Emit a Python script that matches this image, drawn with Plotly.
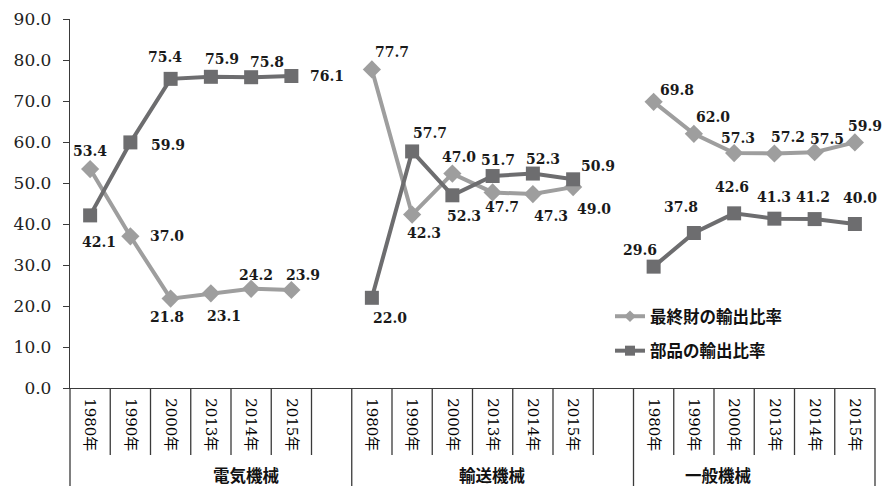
import plotly.graph_objects as go

# ---- data -------------------------------------------------------------
groups = ["電気機械", "輸送機械", "一般機械"]
years = ["1980年", "1990年", "2000年", "2013年", "2014年", "2015年"]

final_ratio = [
    [53.4, 37.0, 21.8, 23.1, 24.2, 23.9],   # 電気機械
    [77.7, 42.3, 52.3, 47.7, 47.3, 49.0],   # 輸送機械
    [69.8, 62.0, 57.3, 57.2, 57.5, 59.9],   # 一般機械
]
parts_ratio = [
    [42.1, 59.9, 75.4, 75.9, 75.8, 76.1],
    [22.0, 57.7, 47.0, 51.7, 52.3, 50.9],
    [29.6, 37.8, 42.6, 41.3, 41.2, 40.0],
]
series_names = ["最終財の輸出比率", "部品の輸出比率"]

# ---- label offsets in pixels (dx right, dy down) -----------------------
final_offsets = [
    [(0, -18), (37, 0), (-4, 18), (13, 23), (5, -14), (12, -15)],
    [(20, -17), (12, 18), (12, 42), (9, 15), (18, 22), (21, 22)],
    [(23, -12), (19, -17), (4, -15), (14, -16), (12, -13), (10, -16)],
]
parts_offsets = [
    [(9, 27), (38, 3), (-6, -22), (11, -18), (16, -15), (36, 0)],
    [(18, 20), (18, -18), (7, -38), (5, -16), (10, -15), (25, -13)],
    [(-14, -17), (-13, -26), (-2, -26), (0, -22), (-2, -22), (5, -26)],
]

# ---- layout of the category slots -------------------------------------
slots_per_group = len(years) + 1          # one empty slot after each group
n_slots = slots_per_group * (len(groups) - 1) + len(years)


def slot(g, i):
    return g * slots_per_group + i


def build_series(values):
    xs, ys = [], []
    for g, vals in enumerate(values):
        for i, v in enumerate(vals):
            xs.append(slot(g, i))
            ys.append(v)
        if g < len(values) - 1:
            xs.append(slot(g, len(years)))
            ys.append(None)           # break the line between groups
    return xs, ys


FINAL_COLOR = "#9e9e9e"
PARTS_COLOR = "#6d6d6f"
AXIS_COLOR = "#3a3a3a"
NUM_FONT = "DejaVu Serif"
JP_FONT = "Noto Sans CJK JP"

fig = go.Figure()

fx, fy = build_series(final_ratio)
px_, py_ = build_series(parts_ratio)

styles = [
    (fx, fy, FINAL_COLOR, "diamond", 14, 9),
    (px_, py_, PARTS_COLOR, "square", 14, 10),
]
for k, (xs, ys, color, symbol, size, legend_size) in enumerate(styles):
    fig.add_trace(go.Scatter(
        x=xs, y=ys, name=series_names[k], mode="lines+markers",
        line=dict(color=color, width=4),
        marker=dict(symbol=symbol, size=size, color=color),
        connectgaps=False, showlegend=False,
    ))
    # legend entry with a smaller marker
    fig.add_trace(go.Scatter(
        x=[None], y=[None], name=series_names[k], mode="lines+markers",
        line=dict(color=color, width=4),
        marker=dict(symbol=symbol, size=legend_size, color=color),
        legendgroup=f"g{k}", showlegend=True,
    ))

# value labels
annotations = []
for values, offsets in ((final_ratio, final_offsets), (parts_ratio, parts_offsets)):
    for g, vals in enumerate(values):
        for i, v in enumerate(vals):
            dx, dy = offsets[g][i]
            annotations.append(dict(
                x=slot(g, i), y=v, xref="x", yref="y",
                text=f"{v:.1f}", showarrow=False,
                xshift=dx, yshift=-dy,
                font=dict(family=NUM_FONT, size=14, color="#1a1a1a", weight="bold"),
            ))

# category table under the axis
plot_top, plot_bottom, fig_h = 19, 388, 486
plot_h = plot_bottom - plot_top
y_table_bottom = -(fig_h - plot_bottom) / plot_h
y_year_bottom = -(455 - plot_bottom) / plot_h
y_group_label = -(475 - plot_bottom) / plot_h

shapes = []
line_style = dict(color=AXIS_COLOR, width=1.3)
# left edge (continuation of the value axis) and right edge
shapes.append(dict(type="line", xref="paper", yref="paper", x0=0, x1=0,
                   y0=y_table_bottom, y1=0, line=line_style))
shapes.append(dict(type="line", xref="paper", yref="paper", x0=1, x1=1,
                   y0=y_table_bottom, y1=0, line=line_style))
for g in range(len(groups)):
    n_in_group = slots_per_group if g < len(groups) - 1 else len(years)
    start = g * slots_per_group
    for k in range(1, n_in_group):
        xp = (start + k) / n_slots
        shapes.append(dict(type="line", xref="paper", yref="paper", x0=xp, x1=xp,
                           y0=y_year_bottom, y1=0, line=line_style))
    if g < len(groups) - 1:
        xp = (start + n_in_group) / n_slots
        shapes.append(dict(type="line", xref="paper", yref="paper", x0=xp, x1=xp,
                           y0=y_table_bottom, y1=0, line=line_style))
    center = (start + n_in_group / 2) / n_slots
    annotations.append(dict(
        x=center, y=y_group_label, xref="paper", yref="paper",
        text=groups[g], showarrow=False, yanchor="middle",
        font=dict(family=JP_FONT, size=16.5, color="#111111", weight="bold"),
    ))

tick_vals = [slot(g, i) for g in range(len(groups)) for i in range(len(years))]
tick_text = [y for _ in groups for y in years]

fig.update_layout(
    width=882, height=486,
    margin=dict(l=70, r=7, t=plot_top, b=fig_h - plot_bottom, pad=0),
    paper_bgcolor="white", plot_bgcolor="white",
    showlegend=True,
    legend=dict(
        x=(610 - 70) / 805, y=(388 - 299) / plot_h, xanchor="left", yanchor="top",
        bgcolor="rgba(0,0,0,0)", traceorder="grouped", tracegroupgap=10,
        itemwidth=30,
        font=dict(family=JP_FONT, size=16.5, color="#111111", weight="bold"),
    ),
    xaxis=dict(
        range=[-0.5, n_slots - 0.5], tickmode="array",
        tickvals=tick_vals, ticktext=tick_text, tickangle=90,
        ticks="", showgrid=False, zeroline=False,
        showline=True, linecolor=AXIS_COLOR, linewidth=1.3,
        tickfont=dict(family=f"{NUM_FONT}, {JP_FONT}", size=15, color="#000000"),
        ticklabelstandoff=6,
    ),
    yaxis=dict(
        range=[0, 90], dtick=10, tick0=0, tickformat=".1f",
        ticks="outside", ticklen=6, tickcolor=AXIS_COLOR, tickwidth=1.3,
        showgrid=False, zeroline=False,
        showline=True, linecolor=AXIS_COLOR, linewidth=1.3,
        tickfont=dict(family=NUM_FONT, size=17, color="#222222"),
        ticklabelstandoff=8,
    ),
    annotations=annotations,
    shapes=shapes,
)

fig.write_html("out.html")
